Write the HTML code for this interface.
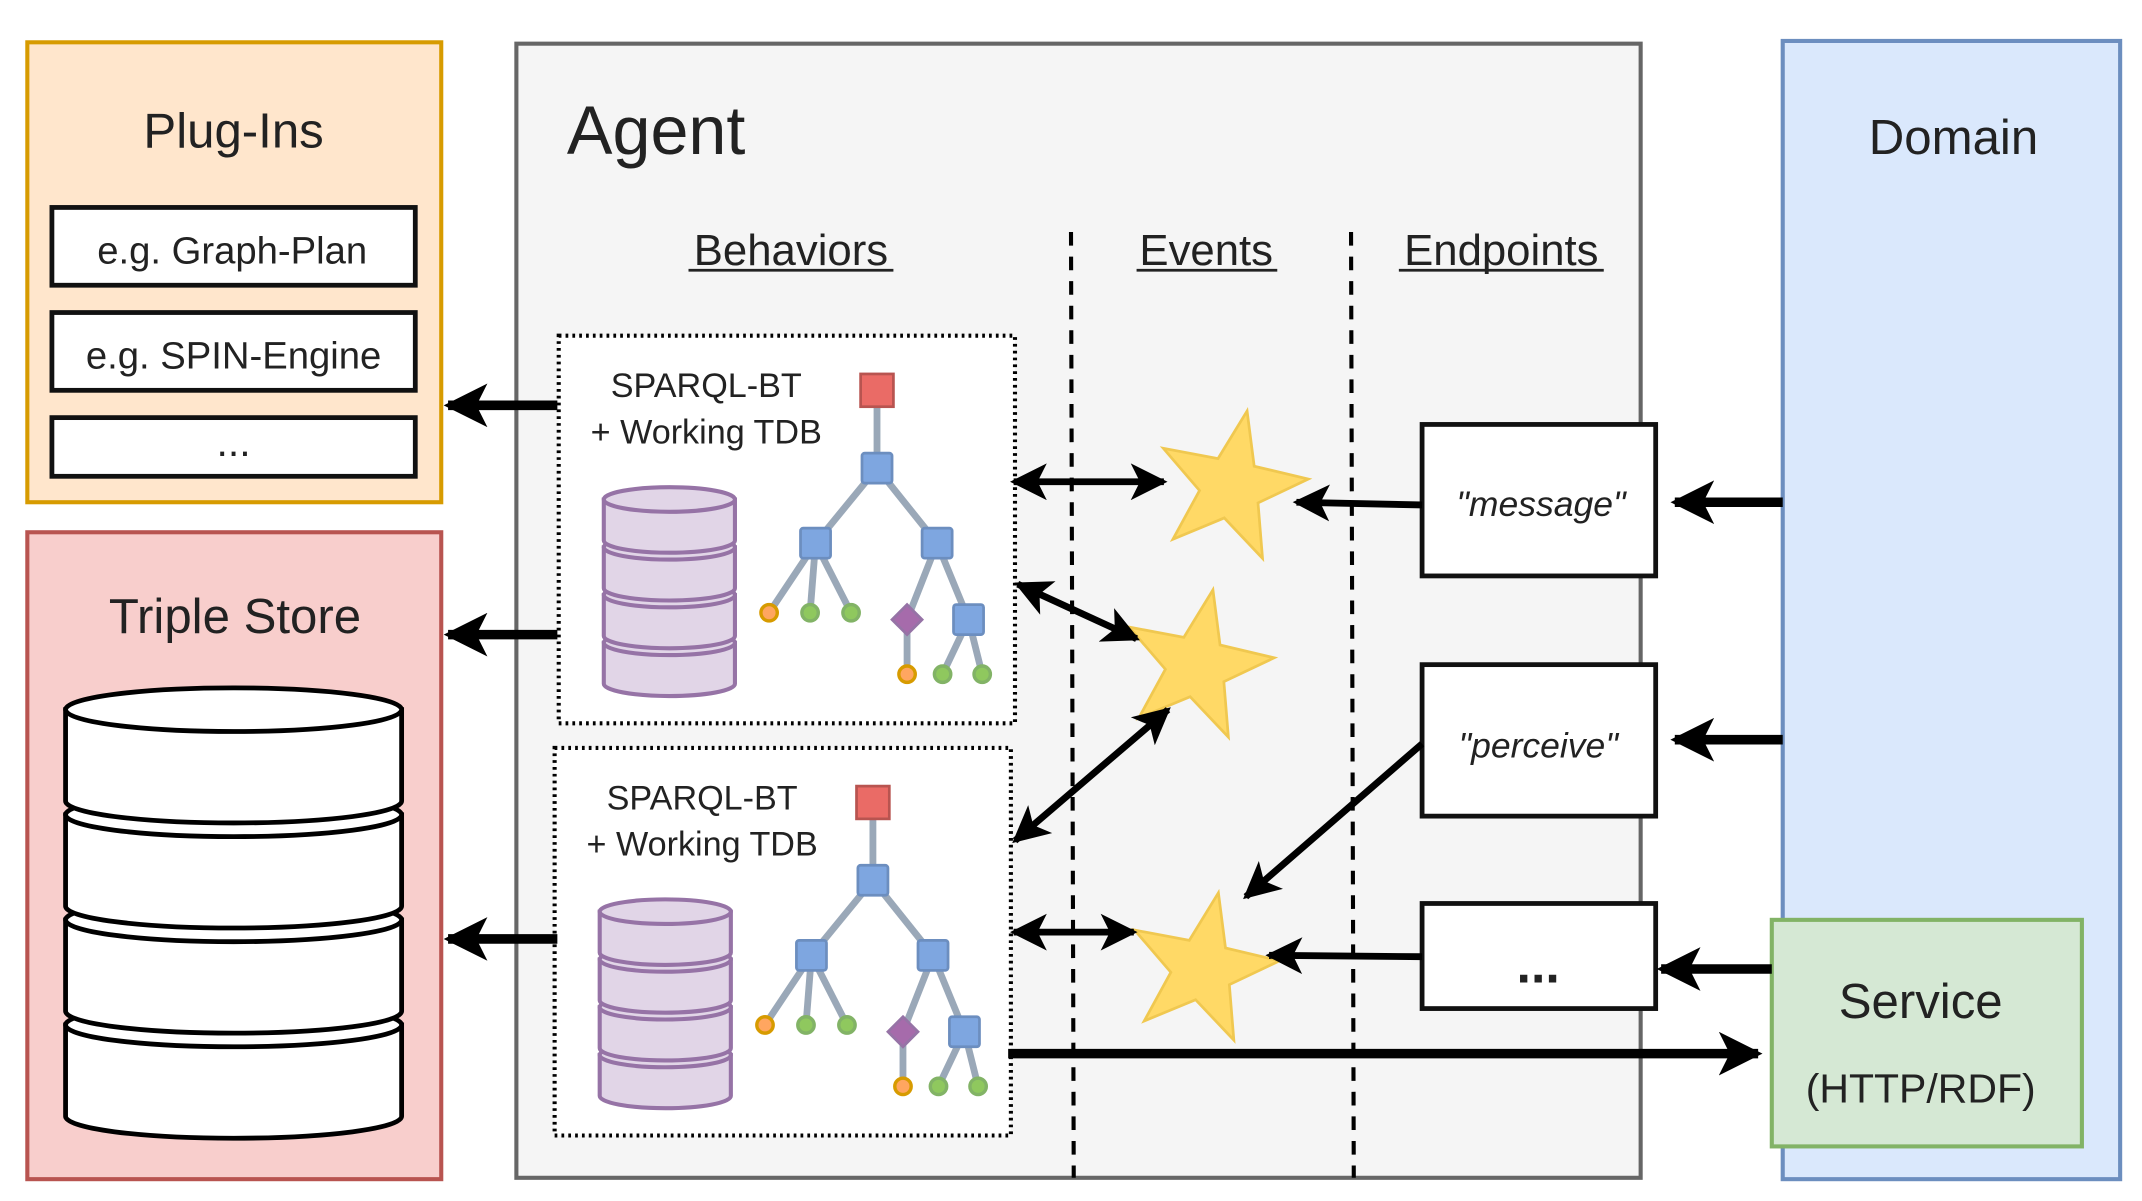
<!DOCTYPE html>
<html><head><meta charset="utf-8"><style>
html,body{margin:0;padding:0;background:#fff;}
svg{display:block;}
text{font-family:"Liberation Sans",Arial,sans-serif;fill:#222;}
</style></head><body>
<svg width="2142" height="1201" viewBox="0 0 1568 880" preserveAspectRatio="none" xmlns="http://www.w3.org/2000/svg" font-family="Liberation Sans, Arial, sans-serif">
<defs>
<marker id="ah" viewBox="0 0 10 10" refX="9" refY="5" markerWidth="32" markerHeight="32" markerUnits="userSpaceOnUse" orient="auto-start-reverse">
<path d="M0,0 L10,5 L0,10 L2.5,5 z" fill="#000"/>
</marker>
<marker id="ahs" viewBox="0 0 10 10" refX="9" refY="5" markerWidth="27" markerHeight="27" markerUnits="userSpaceOnUse" orient="auto-start-reverse">
<path d="M0,0 L10,5 L0,10 L2.5,5 z" fill="#000"/>
</marker>
<g id="tree">
<g stroke="#9aa8b8" stroke-width="5" fill="none">
<line x1="642" y1="286" x2="642" y2="343"/>
<line x1="642" y1="343" x2="597" y2="398"/>
<line x1="642" y1="343" x2="686" y2="398"/>
<line x1="597" y1="398" x2="563" y2="449"/>
<line x1="597" y1="398" x2="593" y2="449"/>
<line x1="597" y1="398" x2="623" y2="449"/>
<line x1="686" y1="398" x2="664" y2="454"/>
<line x1="686" y1="398" x2="709" y2="454"/>
<line x1="664" y1="454" x2="664" y2="494"/>
<line x1="709" y1="454" x2="690" y2="494"/>
<line x1="709" y1="454" x2="719" y2="494"/>
</g>
<rect x="630" y="274" width="24" height="24" fill="#ea6b66" stroke="#b85450" stroke-width="2"/>
<rect x="631" y="332" width="22" height="22" rx="2" fill="#7ea6e0" stroke="#6c8ebf" stroke-width="2"/>
<rect x="586" y="387" width="22" height="22" rx="2" fill="#7ea6e0" stroke="#6c8ebf" stroke-width="2"/>
<rect x="675" y="387" width="22" height="22" rx="2" fill="#7ea6e0" stroke="#6c8ebf" stroke-width="2"/>
<rect x="698" y="443" width="22" height="22" rx="2" fill="#7ea6e0" stroke="#6c8ebf" stroke-width="2"/>
<path d="M664,443 L675,454 L664,465 L653,454 z" fill="#a66bab" stroke="#9673a6" stroke-width="2"/>
<circle cx="563" cy="449" r="6" fill="#ffa660" stroke="#d79b00" stroke-width="2.5"/>
<circle cx="593" cy="449" r="6" fill="#8fc85e" stroke="#82b366" stroke-width="2.5"/>
<circle cx="623" cy="449" r="6" fill="#8fc85e" stroke="#82b366" stroke-width="2.5"/>
<circle cx="664" cy="494" r="6" fill="#ffa660" stroke="#d79b00" stroke-width="2.5"/>
<circle cx="690" cy="494" r="6" fill="#8fc85e" stroke="#82b366" stroke-width="2.5"/>
<circle cx="719" cy="494" r="6" fill="#8fc85e" stroke="#82b366" stroke-width="2.5"/>
<g fill="#e1d5e7" stroke="#9673a6" stroke-width="3">
<path d="M442,471 L442,501 A48,9 0 0 0 538,501 L538,471 z"/><ellipse cx="490" cy="471" rx="48" ry="9"/>
<path d="M442,436 L442,466 A48,9 0 0 0 538,466 L538,436 z"/><ellipse cx="490" cy="436" rx="48" ry="9"/>
<path d="M442,401 L442,431 A48,9 0 0 0 538,431 L538,401 z"/><ellipse cx="490" cy="401" rx="48" ry="9"/>
<path d="M442,366 L442,396 A48,9 0 0 0 538,396 L538,366 z"/><ellipse cx="490" cy="366" rx="48" ry="9"/>
</g>
</g>
<polygon id="star" points="11.9,-55.8 17.1,-15.4 56.7,-6 19.9,11.5 23.2,52.1 -4.8,22.5 -42.4,38.1 -22.9,2.4 -49.4,-28.5 -9.4,-21" fill="#ffd966" stroke="#f0c850" stroke-width="2"/>
</defs>

<rect x="20" y="31" width="303" height="337" fill="#ffe6cc" stroke="#d79b00" stroke-width="3"/>
<text x="171" y="108" font-size="36" text-anchor="middle">Plug-Ins</text>
<rect x="38" y="152" width="266" height="57" fill="#fff" stroke="#111" stroke-width="3.5"/>
<text x="170" y="193" font-size="28" text-anchor="middle">e.g. Graph-Plan</text>
<rect x="38" y="229" width="266" height="57" fill="#fff" stroke="#111" stroke-width="3.5"/>
<text x="171" y="270" font-size="28" text-anchor="middle">e.g. SPIN-Engine</text>
<rect x="38" y="306" width="266" height="43" fill="#fff" stroke="#111" stroke-width="3.5"/>
<text x="171" y="334" font-size="30" text-anchor="middle">...</text>

<rect x="20" y="390" width="303" height="474" fill="#f8cecc" stroke="#b85450" stroke-width="3"/>
<text x="172" y="464" font-size="36" text-anchor="middle">Triple Store</text>
<g fill="#fff" stroke="#000" stroke-width="3.5">
<path d="M48,751 L48,818 A123,16 0 0 0 294,818 L294,751 z"/><ellipse cx="171" cy="751" rx="123" ry="16"/>
<path d="M48,674 L48,741 A123,16 0 0 0 294,741 L294,674 z"/><ellipse cx="171" cy="674" rx="123" ry="16"/>
<path d="M48,597 L48,664 A123,16 0 0 0 294,664 L294,597 z"/><ellipse cx="171" cy="597" rx="123" ry="16"/>
<path d="M48,520 L48,587 A123,16 0 0 0 294,587 L294,520 z"/><ellipse cx="171" cy="520" rx="123" ry="16"/>
</g>

<rect x="1305" y="30" width="247" height="834" fill="#dae8fc" stroke="#6c8ebf" stroke-width="3"/>
<text x="1430" y="113" font-size="36" text-anchor="middle">Domain</text>

<rect x="378" y="32" width="823" height="831" fill="#f5f5f5" stroke="#666" stroke-width="3"/>
<text x="415" y="113" font-size="50">Agent</text>
<text x="579" y="194" font-size="32" text-anchor="middle">Behaviors</text>
<line x1="504" y1="198" x2="654" y2="198" stroke="#222" stroke-width="2"/>
<text x="883" y="194" font-size="32" text-anchor="middle">Events</text>
<line x1="832" y1="198" x2="935" y2="198" stroke="#222" stroke-width="2"/>
<text x="1099" y="194" font-size="32" text-anchor="middle">Endpoints</text>
<line x1="1024" y1="198" x2="1174" y2="198" stroke="#222" stroke-width="2"/>
<line x1="784" y1="170" x2="786" y2="863" stroke="#000" stroke-width="3" stroke-dasharray="10,8"/>
<line x1="989" y1="170" x2="991" y2="863" stroke="#000" stroke-width="3" stroke-dasharray="10,8"/>

<rect x="409" y="246" width="334" height="284" fill="#fff" stroke="#000" stroke-width="3" stroke-dasharray="2,3"/>
<text x="517" y="291" font-size="25" text-anchor="middle">SPARQL-BT</text>
<text x="517" y="325" font-size="25" text-anchor="middle">+ Working TDB</text>
<use href="#tree"/>
<rect x="406" y="548" width="334" height="284" fill="#fff" stroke="#000" stroke-width="3" stroke-dasharray="2,3"/>
<text x="514" y="593" font-size="25" text-anchor="middle">SPARQL-BT</text>
<text x="514" y="627" font-size="25" text-anchor="middle">+ Working TDB</text>
<use href="#tree" transform="translate(-3,302)"/>

<rect x="1041" y="311" width="171" height="111" fill="#fff" stroke="#111" stroke-width="3.5"/>
<text x="1128" y="378" font-size="26" font-style="italic" text-anchor="middle">"message"</text>
<rect x="1041" y="487" width="171" height="111" fill="#fff" stroke="#111" stroke-width="3.5"/>
<text x="1126" y="555" font-size="26" font-style="italic" text-anchor="middle">"perceive"</text>
<rect x="1041" y="662" width="171" height="77" fill="#fff" stroke="#111" stroke-width="3.5"/>
<text x="1126" y="720" font-size="38" font-weight="bold" text-anchor="middle">...</text>

<rect x="1297" y="674" width="227" height="166" fill="#d5e8d4" stroke="#82b366" stroke-width="3"/>
<text x="1406" y="746" font-size="36" text-anchor="middle">Service</text>
<text x="1406" y="808" font-size="30" text-anchor="middle">(HTTP/RDF)</text>

<use href="#star" transform="translate(901,357)"/>
<use href="#star" transform="translate(876,488)"/>
<use href="#star" transform="translate(880,710)"/>

<g stroke="#000" stroke-width="7" fill="none">
<line x1="408" y1="297" x2="328" y2="297" marker-end="url(#ah)"/>
<line x1="408" y1="465" x2="328" y2="465" marker-end="url(#ah)"/>
<line x1="408" y1="688" x2="328" y2="688" marker-end="url(#ah)"/>
<line x1="1305" y1="368" x2="1226" y2="368" marker-end="url(#ah)"/>
<line x1="1305" y1="542" x2="1226" y2="542" marker-end="url(#ah)"/>
<line x1="1297" y1="710" x2="1216" y2="710" marker-end="url(#ah)"/>
<line x1="738" y1="772" x2="1287" y2="772" marker-end="url(#ah)"/>
</g>
<g stroke="#000" stroke-width="5" fill="none">
<line x1="1041" y1="370" x2="949" y2="368" marker-end="url(#ahs)"/>
<line x1="1041" y1="545" x2="912" y2="657" marker-end="url(#ahs)"/>
<line x1="1041" y1="701" x2="929" y2="700" marker-end="url(#ahs)"/>
<line x1="742" y1="353" x2="852" y2="353" marker-start="url(#ahs)" marker-end="url(#ahs)"/>
<line x1="745" y1="428" x2="832" y2="468" marker-start="url(#ahs)" marker-end="url(#ahs)"/>
<line x1="855" y1="520" x2="743" y2="616" marker-start="url(#ahs)" marker-end="url(#ahs)"/>
<line x1="742" y1="683" x2="830" y2="683" marker-start="url(#ahs)" marker-end="url(#ahs)"/>
</g>
</svg>
</body></html>
